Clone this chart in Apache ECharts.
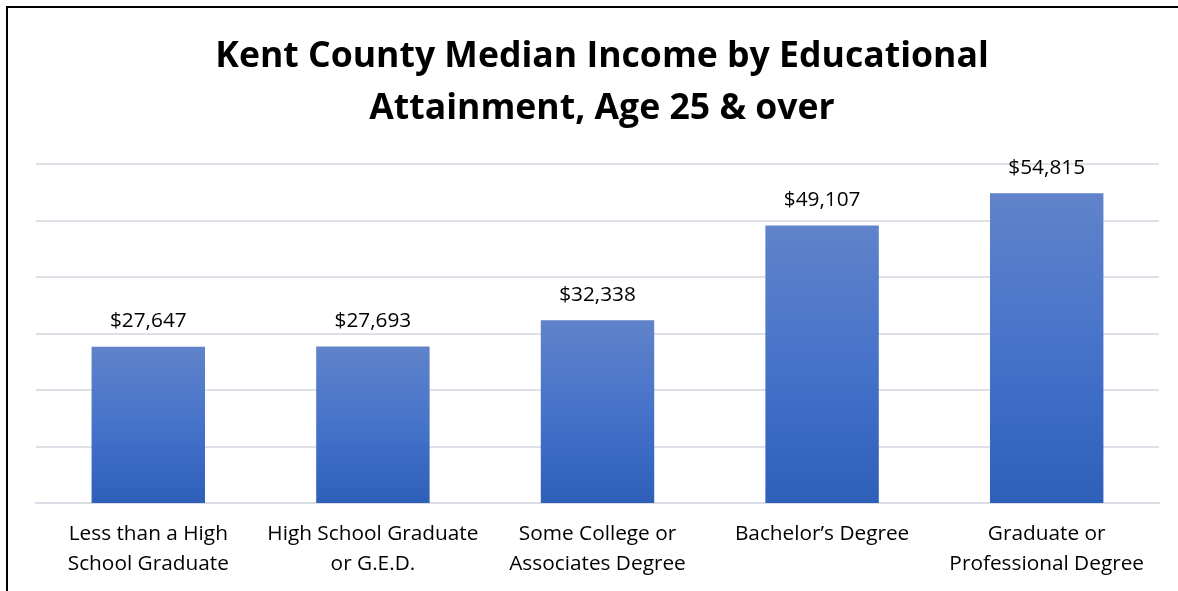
<!DOCTYPE html>
<html>
<head>
<meta charset="utf-8">
<script src="https://cdn.jsdelivr.net/npm/echarts@6/dist/echarts.min.js"></script>
<style>
  html, body { margin: 0; padding: 0; background: #fff; }
  #chart { width: 1178px; height: 591px; }
</style>
</head>
<body>
<div id="chart"></div>
<script>
// Median income by educational attainment, Kent County, age 25 and over
const categories = [
  'Less than a High\nSchool Graduate',
  'High School Graduate\nor G.E.D.',
  'Some College or\nAssociates Degree',
  'Bachelor\u2019s Degree',
  'Graduate or\nProfessional Degree'
];
const medianIncome = [27647, 27693, 32338, 49107, 54815];
const titleLines = ['Kent County Median Income by Educational', 'Attainment, Age 25 & over'];

const FONT = '"Open Sans", Lato, sans-serif';

const chart = echarts.init(document.getElementById('chart'), null, { renderer: 'canvas' });

const fmt = v => '$' + v.toLocaleString('en-US');

chart.setOption({
  animation: false,
  backgroundColor: '#ffffff',
  title: {
    text: titleLines.join('\n'),
    left: 597,
    textAlign: 'center',
    top: 26,
    textStyle: {
      fontFamily: FONT,
      fontWeight: 'bold',
      fontSize: 35.6,
      lineHeight: 52,
      color: '#000000'
    }
  },
  grid: { left: 36, right: 19, top: 164, bottom: 88, containLabel: false },
  xAxis: {
    type: 'category',
    data: categories,
    axisLine: { show: true, lineStyle: { color: '#D9DDE3', width: 2 } },
    axisTick: { show: false },
    axisLabel: {
      interval: 0,
      margin: 16,
      fontFamily: FONT,
      fontSize: 20.8,
      lineHeight: 30,
      color: '#000000'
    }
  },
  yAxis: {
    type: 'value',
    min: 0,
    max: 60000,
    interval: 10000,
    axisLabel: { show: false },
    axisLine: { show: false },
    axisTick: { show: false },
    splitLine: { lineStyle: { color: '#DDE1E7', width: 2 } }
  },
  series: [{
    type: 'bar',
    data: medianIncome,
    barWidth: '50.5%',
    itemStyle: {
      color: new echarts.graphic.LinearGradient(0, 0, 0, 1, [
        { offset: 0, color: '#6083CA' },
        { offset: 0.5, color: '#4673CA' },
        { offset: 1, color: '#2E5FB9' }
      ])
    },
    label: {
      show: true,
      position: 'top',
      distance: 15,
      formatter: p => fmt(p.value),
      fontFamily: FONT,
      fontSize: 20.8,
      color: '#000000'
    }
  }],
  graphic: [
    { type: 'line', shape: { x1: 6, y1: 7, x2: 1178, y2: 7 }, style: { stroke: '#000', lineWidth: 2 } },
    { type: 'line', shape: { x1: 7, y1: 6, x2: 7, y2: 591 }, style: { stroke: '#000', lineWidth: 2 } }
  ]
});
</script>
</body>
</html>
